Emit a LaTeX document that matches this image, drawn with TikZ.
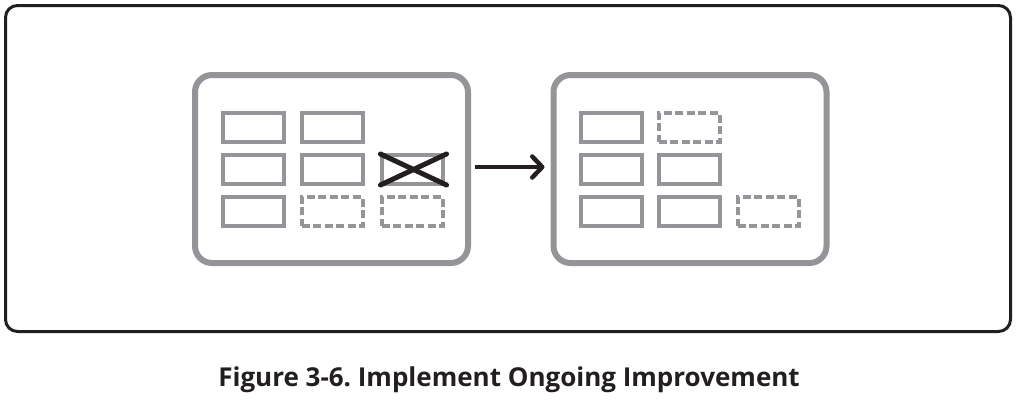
\documentclass[tikz,border=0pt]{standalone}
\usepackage{fontspec}
\setmainfont{Open Sans}
\usetikzlibrary{arrows.meta}
\definecolor{frameblack}{RGB}{35,31,32}
\definecolor{panelgray}{RGB}{148,149,152}
\tikzset{
  outerframe/.style={draw=frameblack, line width=3pt, rounded corners=12pt},
  panel/.style={draw=panelgray, line width=6pt, rounded corners=17pt, minimum width=273pt, minimum height=188pt, inner sep=0pt},
  cell/.style={draw=panelgray, line width=4pt, minimum width=61pt, minimum height=29pt, inner sep=0pt},
  emptycell/.style={cell, dash pattern=on 8pt off 3.5pt},
  flowarrow/.style={draw=frameblack, line width=4.5pt, -{Straight Barb[length=10pt, width=21pt, line cap=round, line join=round]}, shorten <=4pt, shorten >=6pt},
  crossline/.style={draw=frameblack, line width=5pt, line cap=round},
  caption/.style={font=\bfseries\fontsize{26}{30}\selectfont, text=frameblack}
}
\begin{document}
\frenchspacing
\begin{tikzpicture}[x=1pt, y=-1pt]
  \useasboundingbox[fill=white] (0,0) rectangle (1017,400);
  \draw[outerframe] (5.5,5.5) rectangle (1010.5,331.5);
  % panels
  \node[panel] (L) at (331.5,169) {};
  \node[panel] (R) at (690,169) {};
  % left cells
  \node[cell] (l11) at (253.5,127.5) {};
  \node[cell] (l12) at (332,127.5) {};
  \node[cell] (l21) at (253.5,169.5) {};
  \node[cell] (l22) at (332,169.5) {};
  \node[cell] (l23) at (412,169.5) {};
  \node[cell] (l31) at (253.5,211.5) {};
  \node[emptycell] (l32) at (332,211.5) {};
  \node[emptycell] (l33) at (412,211.5) {};
  \draw[crossline] ([shift={(1pt,-1pt)}]l23.north west) -- ([shift={(2pt,1pt)}]l23.south east);
  \draw[crossline] ([shift={(1pt,1pt)}]l23.south west) -- ([shift={(2pt,-1pt)}]l23.north east);
  % right cells
  \node[cell] (r11) at (611,127.5) {};
  \node[emptycell] (r12) at (689,127.5) {};
  \node[cell] (r21) at (611,169.5) {};
  \node[cell] (r22) at (689,169.5) {};
  \node[cell] (r31) at (611,211.5) {};
  \node[cell] (r32) at (689,211.5) {};
  \node[emptycell] (r33) at (768,211.5) {};
  % arrow
  \draw[flowarrow] ([yshift=2pt]L.east) -- ([yshift=2pt]R.west);
  % caption
  \node[caption] (cap) at (509,379.5) {Figure 3-6. Implement Ongoing Improvement};
\end{tikzpicture}
\end{document}
